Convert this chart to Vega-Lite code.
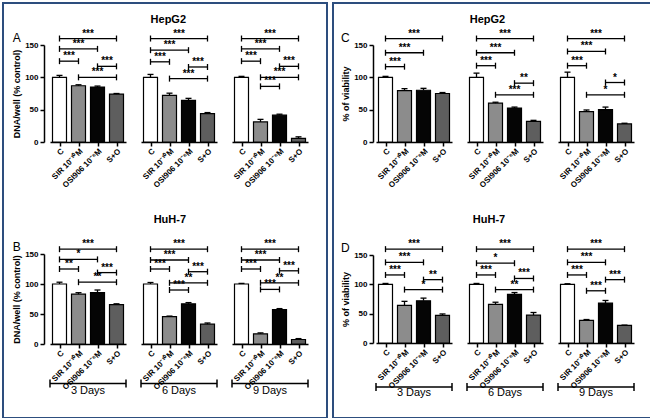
{
"$schema": "https://vega.github.io/schema/vega-lite/v6.json",
"padding": 0,
"background": "white",
"config": {
  "view": {"stroke": null},
  "font": "Liberation Sans",
  "axis": {"domainColor": "black", "tickColor": "black", "labelColor": "black", "titleColor": "black", "domainWidth": 1.5, "tickWidth": 1.5, "grid": false, "labelFont": "Liberation Sans", "titleFont": "Liberation Sans"},
  "title": {"color": "black", "fontSize": 11, "fontWeight": "bold", "font": "Liberation Sans", "anchor": "middle"},
  "header": {"labelColor": "black", "labelFont": "Liberation Sans"}
},
"datasets": {"all": [
{"p":"A","d":"3 Days","t":"C","v":100,"hi":103},
{"p":"A","d":"3 Days","t":"SIR","v":87,"hi":88.5},
{"p":"A","d":"3 Days","t":"OSI","v":85,"hi":86.5},
{"p":"A","d":"3 Days","t":"S+O","v":74,"hi":75},
{"p":"A","d":"6 Days","t":"C","v":100,"hi":104.5},
{"p":"A","d":"6 Days","t":"SIR","v":72,"hi":75.5},
{"p":"A","d":"6 Days","t":"OSI","v":64.5,"hi":67.5},
{"p":"A","d":"6 Days","t":"S+O","v":44,"hi":45.5},
{"p":"A","d":"9 Days","t":"C","v":100,"hi":101.5},
{"p":"A","d":"9 Days","t":"SIR","v":31,"hi":35},
{"p":"A","d":"9 Days","t":"OSI","v":41.5,"hi":43},
{"p":"A","d":"9 Days","t":"S+O","v":5.5,"hi":8},
{"p":"A","d":"3 Days","f":"C","g":"S+O","m":"SIR|OSI","yb":160,"s":"***"},
{"p":"A","d":"3 Days","f":"C","g":"OSI","m":"SIR","yb":144,"s":"***"},
{"p":"A","d":"3 Days","f":"C","g":"SIR","m":"C|SIR","yb":125,"s":"***"},
{"p":"A","d":"3 Days","f":"OSI","g":"S+O","m":"OSI|S+O","yb":117,"s":"***"},
{"p":"A","d":"3 Days","f":"SIR","g":"S+O","m":"OSI","yb":100,"s":"***"},
{"p":"A","d":"6 Days","f":"C","g":"S+O","m":"SIR|OSI","yb":160,"s":"***"},
{"p":"A","d":"6 Days","f":"C","g":"OSI","m":"SIR","yb":142,"s":"***"},
{"p":"A","d":"6 Days","f":"C","g":"SIR","m":"C|SIR","yb":124,"s":"***"},
{"p":"A","d":"6 Days","f":"OSI","g":"S+O","m":"OSI|S+O","yb":116,"s":"***"},
{"p":"A","d":"6 Days","f":"SIR","g":"S+O","m":"OSI","yb":98,"s":"***"},
{"p":"A","d":"9 Days","f":"C","g":"S+O","m":"SIR|OSI","yb":160,"s":"***"},
{"p":"A","d":"9 Days","f":"C","g":"OSI","m":"SIR","yb":144,"s":"***"},
{"p":"A","d":"9 Days","f":"C","g":"SIR","m":"C|SIR","yb":125,"s":"***"},
{"p":"A","d":"9 Days","f":"OSI","g":"S+O","m":"OSI|S+O","yb":117,"s":"***"},
{"p":"A","d":"9 Days","f":"SIR","g":"S+O","m":"OSI","yb":100,"s":"***"},
{"p":"A","d":"9 Days","f":"SIR","g":"OSI","m":"SIR|OSI","yb":86,"s":"***"},
{"p":"B","d":"3 Days","t":"C","v":100,"hi":103},
{"p":"B","d":"3 Days","t":"SIR","v":83,"hi":85.5},
{"p":"B","d":"3 Days","t":"OSI","v":85.5,"hi":90},
{"p":"B","d":"3 Days","t":"S+O","v":65.5,"hi":67},
{"p":"B","d":"6 Days","t":"C","v":100,"hi":102.5},
{"p":"B","d":"6 Days","t":"SIR","v":45.5,"hi":46.5},
{"p":"B","d":"6 Days","t":"OSI","v":67,"hi":69},
{"p":"B","d":"6 Days","t":"S+O","v":33,"hi":35},
{"p":"B","d":"9 Days","t":"C","v":100,"hi":101},
{"p":"B","d":"9 Days","t":"SIR","v":17,"hi":18.5},
{"p":"B","d":"9 Days","t":"OSI","v":57.5,"hi":59},
{"p":"B","d":"9 Days","t":"S+O","v":7.5,"hi":9},
{"p":"B","d":"3 Days","f":"C","g":"S+O","m":"SIR|OSI","yb":158,"s":"***"},
{"p":"B","d":"3 Days","f":"C","g":"OSI","m":"SIR","yb":141,"s":"*"},
{"p":"B","d":"3 Days","f":"C","g":"SIR","m":"C|SIR","yb":125,"s":"**"},
{"p":"B","d":"3 Days","f":"OSI","g":"S+O","m":"OSI|S+O","yb":119,"s":"***"},
{"p":"B","d":"3 Days","f":"SIR","g":"S+O","m":"OSI","yb":103,"s":"**"},
{"p":"B","d":"6 Days","f":"C","g":"S+O","m":"SIR|OSI","yb":158,"s":"***"},
{"p":"B","d":"6 Days","f":"C","g":"OSI","m":"SIR","yb":140,"s":"***"},
{"p":"B","d":"6 Days","f":"C","g":"SIR","m":"C|SIR","yb":125,"s":"***"},
{"p":"B","d":"6 Days","f":"OSI","g":"S+O","m":"OSI|S+O","yb":120.5,"s":"***"},
{"p":"B","d":"6 Days","f":"SIR","g":"S+O","m":"OSI","yb":102,"s":"**"},
{"p":"B","d":"6 Days","f":"SIR","g":"OSI","m":"SIR|OSI","yb":90,"s":"***"},
{"p":"B","d":"9 Days","f":"C","g":"S+O","m":"SIR|OSI","yb":158,"s":"***"},
{"p":"B","d":"9 Days","f":"C","g":"OSI","m":"SIR","yb":140,"s":"***"},
{"p":"B","d":"9 Days","f":"C","g":"SIR","m":"C|SIR","yb":125,"s":"***"},
{"p":"B","d":"9 Days","f":"OSI","g":"S+O","m":"OSI|S+O","yb":122,"s":"***"},
{"p":"B","d":"9 Days","f":"SIR","g":"S+O","m":"OSI","yb":102,"s":"**"},
{"p":"B","d":"9 Days","f":"SIR","g":"OSI","m":"SIR|OSI","yb":91,"s":"***"},
{"p":"C","d":"3 Days","t":"C","v":100,"hi":101.5},
{"p":"C","d":"3 Days","t":"SIR","v":79.5,"hi":82.5},
{"p":"C","d":"3 Days","t":"OSI","v":80,"hi":83},
{"p":"C","d":"3 Days","t":"S+O","v":75,"hi":76.5},
{"p":"C","d":"6 Days","t":"C","v":100,"hi":106.5},
{"p":"C","d":"6 Days","t":"SIR","v":60,"hi":61.5},
{"p":"C","d":"6 Days","t":"OSI","v":52.5,"hi":54},
{"p":"C","d":"6 Days","t":"S+O","v":32,"hi":33.5},
{"p":"C","d":"9 Days","t":"C","v":100,"hi":108},
{"p":"C","d":"9 Days","t":"SIR","v":47,"hi":49.5},
{"p":"C","d":"9 Days","t":"OSI","v":50,"hi":54},
{"p":"C","d":"9 Days","t":"S+O","v":28,"hi":29},
{"p":"C","d":"3 Days","f":"C","g":"S+O","m":"SIR|OSI","yb":160,"s":"***"},
{"p":"C","d":"3 Days","f":"C","g":"OSI","m":"SIR","yb":138,"s":"***"},
{"p":"C","d":"3 Days","f":"C","g":"SIR","m":"C|SIR","yb":116.5,"s":"***"},
{"p":"C","d":"6 Days","f":"C","g":"S+O","m":"SIR|OSI","yb":160,"s":"***"},
{"p":"C","d":"6 Days","f":"C","g":"OSI","m":"SIR","yb":138,"s":"***"},
{"p":"C","d":"6 Days","f":"C","g":"SIR","m":"C|SIR","yb":118,"s":"***"},
{"p":"C","d":"6 Days","f":"OSI","g":"S+O","m":"OSI|S+O","yb":91,"s":"**"},
{"p":"C","d":"6 Days","f":"SIR","g":"S+O","m":"OSI","yb":73,"s":"***"},
{"p":"C","d":"9 Days","f":"C","g":"S+O","m":"SIR|OSI","yb":160,"s":"***"},
{"p":"C","d":"9 Days","f":"C","g":"OSI","m":"SIR","yb":140,"s":"***"},
{"p":"C","d":"9 Days","f":"C","g":"SIR","m":"C|SIR","yb":118,"s":"***"},
{"p":"C","d":"9 Days","f":"OSI","g":"S+O","m":"OSI|S+O","yb":92,"s":"*"},
{"p":"C","d":"9 Days","f":"SIR","g":"S+O","m":"OSI","yb":73,"s":"*"},
{"p":"D","d":"3 Days","t":"C","v":100,"hi":101.5},
{"p":"D","d":"3 Days","t":"SIR","v":64,"hi":71},
{"p":"D","d":"3 Days","t":"OSI","v":72,"hi":76.5},
{"p":"D","d":"3 Days","t":"S+O","v":47,"hi":49.5},
{"p":"D","d":"6 Days","t":"C","v":100,"hi":101.5},
{"p":"D","d":"6 Days","t":"SIR","v":66,"hi":69.5},
{"p":"D","d":"6 Days","t":"OSI","v":83,"hi":86},
{"p":"D","d":"6 Days","t":"S+O","v":47.5,"hi":52},
{"p":"D","d":"9 Days","t":"C","v":100,"hi":101},
{"p":"D","d":"9 Days","t":"SIR","v":38.5,"hi":40},
{"p":"D","d":"9 Days","t":"OSI","v":68,"hi":72.5},
{"p":"D","d":"9 Days","t":"S+O","v":30,"hi":30.5},
{"p":"D","d":"3 Days","f":"C","g":"S+O","m":"SIR|OSI","yb":160,"s":"***"},
{"p":"D","d":"3 Days","f":"C","g":"OSI","m":"SIR","yb":137.5,"s":"***"},
{"p":"D","d":"3 Days","f":"C","g":"SIR","m":"C|SIR","yb":116,"s":"***"},
{"p":"D","d":"3 Days","f":"OSI","g":"S+O","m":"OSI|S+O","yb":108,"s":"**"},
{"p":"D","d":"3 Days","f":"SIR","g":"S+O","m":"OSI","yb":91,"s":"*"},
{"p":"D","d":"6 Days","f":"C","g":"S+O","m":"SIR|OSI","yb":160,"s":"***"},
{"p":"D","d":"6 Days","f":"C","g":"OSI","m":"SIR","yb":136,"s":"*"},
{"p":"D","d":"6 Days","f":"C","g":"SIR","m":"C|SIR","yb":116,"s":"***"},
{"p":"D","d":"6 Days","f":"OSI","g":"S+O","m":"OSI|S+O","yb":110,"s":"***"},
{"p":"D","d":"6 Days","f":"SIR","g":"S+O","m":"OSI","yb":91,"s":"**"},
{"p":"D","d":"9 Days","f":"C","g":"S+O","m":"SIR|OSI","yb":160,"s":"***"},
{"p":"D","d":"9 Days","f":"C","g":"OSI","m":"SIR","yb":137.5,"s":"***"},
{"p":"D","d":"9 Days","f":"C","g":"SIR","m":"C|SIR","yb":116,"s":"***"},
{"p":"D","d":"9 Days","f":"OSI","g":"S+O","m":"OSI|S+O","yb":108,"s":"***"},
{"p":"D","d":"9 Days","f":"SIR","g":"OSI","m":"SIR|OSI","yb":89,"s":"***"}
]},
"columns": 2,
"align": "none",
"spacing": {"row": -406, "column": -640},
"concat": [
{"spacing": 4, "hconcat": [
  {"width": 324, "height": 415, "data": {"values": [{"k": 1}]}, "mark": {"type": "point", "opacity": 0}, "encoding": {}, "view": {"stroke": "#2d4e7e", "strokeWidth": 2}},
  {"width": 318, "height": 415, "data": {"values": [{"k": 1}]}, "mark": {"type": "point", "opacity": 0}, "encoding": {}, "view": {"stroke": "#2d4e7e", "strokeWidth": 2}}
]},
{"width": 1, "height": 1, "data": {"values": [{"k": 1}]}, "mark": {"type": "point", "opacity": 0}, "encoding": {}},
{"width": 1, "height": 1, "data": {"values": [{"k": 1}]}, "mark": {"type": "point", "opacity": 0}, "encoding": {}},
{"spacing": 29, "hconcat": [
 {"spacing": 24, "vconcat": [
  {"data": {"name": "all"}, "transform": [{"filter": "datum.p == 'A'"}],
   "title": {"text": "HepG2", "offset": 4, "anchor": "middle", "dx": 8},
   "bounds": "flush",
   "facet": {
     "row": {"field": "p", "type": "nominal", "header": {"title": null, "labelAngle": 0, "labelAnchor": "end", "labelAlign": "left", "labelBaseline": "bottom", "labelFontSize": 12, "labelPadding": -8}},
     "column": {"field": "d", "type": "ordinal", "header": {"title": null, "labels": false}}
   },
   "spacing": {"row": 0, "column": 15},
   "spec": {"width": 76, "height": 97, "layer": [
     {"transform": [{"filter": "isValid(datum.v)"}], "mark": {"type": "bar", "width": 14, "stroke": "black", "strokeWidth": 1.2},
      "encoding": {
        "x": {"field": "t", "type": "nominal", "scale": {"type": "point", "domain": ["L","C","C|SIR","SIR","SIR|OSI","OSI","OSI|S+O","S+O","R"], "padding": 0},
              "axis": {"values": ["C","SIR","OSI","S+O"], "labelExpr": "datum.value == 'SIR' ? 'SIR 10⁻¹⁰M' : datum.value == 'OSI' ? 'OSI906 10⁻⁶M' : datum.value", "labelAngle": -45, "labelFontSize": 8, "labelFontWeight": "bold", "title": null, "tickSize": 4, "labelPadding": 1, "labelOverlap": false, "labelBound": false, "labelFlush": false}},
        "y": {"field": "v", "type": "quantitative", "scale": {"domain": [0, 150], "nice": false},
              "axis": {"tickCount": 3, "labelExpr": "format(datum.value, 'd')", "title": "DNA/well (% control)", "titleFontSize": 9, "titleFontWeight": "bold", "labelFontSize": 8, "labelFontWeight": "bold", "offset": 6, "tickSize": 4, "labelPadding": 2, "titlePadding": 3, "labelOverlap": false, "labelFlush": false}},
        "fill": {"field": "t", "type": "nominal", "scale": {"domain": ["C","SIR","OSI","S+O"], "range": ["#ffffff","#8c8c8c","#050505","#5e5e5e"]}, "legend": null}
      }},
     {"transform": [{"filter": "isValid(datum.v)"}], "mark": {"type": "rule", "color": "black", "strokeWidth": 1.3},
      "encoding": {"x": {"field": "t", "type": "nominal"}, "y": {"field": "v", "type": "quantitative"}, "y2": {"field": "hi"}}},
     {"transform": [{"filter": "isValid(datum.v)"}], "mark": {"type": "point", "shape": "M-1,0L1,0", "size": 36, "filled": false, "color": "black", "strokeWidth": 1.3, "opacity": 1},
      "encoding": {"x": {"field": "t", "type": "nominal"}, "y": {"field": "hi", "type": "quantitative"}}},
     {"transform": [{"filter": "isValid(datum.s)"}], "mark": {"type": "rule", "color": "black", "strokeWidth": 1.3},
      "encoding": {"x": {"field": "f", "type": "nominal"}, "x2": {"field": "g"}, "y": {"field": "yb", "type": "quantitative"}}},
     {"transform": [{"filter": "isValid(datum.s)"}], "mark": {"type": "point", "shape": "M0,-1L0,1", "size": 36, "filled": false, "color": "black", "strokeWidth": 1.3, "opacity": 1},
      "encoding": {"x": {"field": "f", "type": "nominal"}, "y": {"field": "yb", "type": "quantitative"}}},
     {"transform": [{"filter": "isValid(datum.s)"}], "mark": {"type": "point", "shape": "M0,-1L0,1", "size": 36, "filled": false, "color": "black", "strokeWidth": 1.3, "opacity": 1},
      "encoding": {"x": {"field": "g", "type": "nominal"}, "y": {"field": "yb", "type": "quantitative"}}},
     {"transform": [{"filter": "isValid(datum.s)"}], "mark": {"type": "text", "baseline": "bottom", "fontSize": 10, "fontWeight": "bold", "color": "black"},
      "encoding": {"x": {"field": "m", "type": "nominal"}, "y": {"field": "yb", "type": "quantitative"}, "text": {"field": "s"}}}
   ]}
  },
  {"data": {"name": "all"}, "transform": [{"filter": "datum.p == 'B'"}],
   "title": {"text": "HuH-7", "offset": 14, "anchor": "middle", "dx": 8},
   "bounds": "flush",
   "facet": {
     "row": {"field": "p", "type": "nominal", "header": {"title": null, "labelAngle": 0, "labelAnchor": "end", "labelAlign": "left", "labelBaseline": "bottom", "labelFontSize": 12, "labelPadding": -8}},
     "column": {"field": "d", "type": "ordinal", "header": {"title": null, "labels": false}}
   },
   "spacing": {"row": 0, "column": 15},
   "spec": {"width": 76, "height": 90, "layer": [
     {"transform": [{"filter": "isValid(datum.v)"}], "mark": {"type": "bar", "width": 14, "stroke": "black", "strokeWidth": 1.2},
      "encoding": {
        "x": {"field": "t", "type": "nominal", "scale": {"type": "point", "domain": ["L","C","C|SIR","SIR","SIR|OSI","OSI","OSI|S+O","S+O","R"], "padding": 0},
              "axis": {"values": ["C","SIR","OSI","S+O"], "labelExpr": "datum.value == 'SIR' ? 'SIR 10⁻¹⁰M' : datum.value == 'OSI' ? 'OSI906 10⁻⁶M' : datum.value", "labelAngle": -45, "labelFontSize": 8, "labelFontWeight": "bold", "title": null, "tickSize": 4, "labelPadding": 1, "labelOverlap": false, "labelBound": false, "labelFlush": false}},
        "y": {"field": "v", "type": "quantitative", "scale": {"domain": [0, 150], "nice": false},
              "axis": {"tickCount": 3, "labelExpr": "format(datum.value, 'd')", "title": "DNA/well (% control)", "titleFontSize": 9, "titleFontWeight": "bold", "labelFontSize": 8, "labelFontWeight": "bold", "offset": 6, "tickSize": 4, "labelPadding": 2, "titlePadding": 3, "labelOverlap": false, "labelFlush": false}},
        "fill": {"field": "t", "type": "nominal", "scale": {"domain": ["C","SIR","OSI","S+O"], "range": ["#ffffff","#8c8c8c","#050505","#5e5e5e"]}, "legend": null}
      }},
     {"transform": [{"filter": "isValid(datum.v)"}], "mark": {"type": "rule", "color": "black", "strokeWidth": 1.3},
      "encoding": {"x": {"field": "t", "type": "nominal"}, "y": {"field": "v", "type": "quantitative"}, "y2": {"field": "hi"}}},
     {"transform": [{"filter": "isValid(datum.v)"}], "mark": {"type": "point", "shape": "M-1,0L1,0", "size": 36, "filled": false, "color": "black", "strokeWidth": 1.3, "opacity": 1},
      "encoding": {"x": {"field": "t", "type": "nominal"}, "y": {"field": "hi", "type": "quantitative"}}},
     {"transform": [{"filter": "isValid(datum.s)"}], "mark": {"type": "rule", "color": "black", "strokeWidth": 1.3},
      "encoding": {"x": {"field": "f", "type": "nominal"}, "x2": {"field": "g"}, "y": {"field": "yb", "type": "quantitative"}}},
     {"transform": [{"filter": "isValid(datum.s)"}], "mark": {"type": "point", "shape": "M0,-1L0,1", "size": 36, "filled": false, "color": "black", "strokeWidth": 1.3, "opacity": 1},
      "encoding": {"x": {"field": "f", "type": "nominal"}, "y": {"field": "yb", "type": "quantitative"}}},
     {"transform": [{"filter": "isValid(datum.s)"}], "mark": {"type": "point", "shape": "M0,-1L0,1", "size": 36, "filled": false, "color": "black", "strokeWidth": 1.3, "opacity": 1},
      "encoding": {"x": {"field": "g", "type": "nominal"}, "y": {"field": "yb", "type": "quantitative"}}},
     {"transform": [{"filter": "isValid(datum.s)"}], "mark": {"type": "text", "baseline": "bottom", "fontSize": 10, "fontWeight": "bold", "color": "black"},
      "encoding": {"x": {"field": "m", "type": "nominal"}, "y": {"field": "yb", "type": "quantitative"}, "text": {"field": "s"}}},
     {"transform": [{"filter": "datum.t == 'C'"}], "mark": {"type": "rule", "color": "black", "strokeWidth": 1.5},
      "encoding": {"x": {"datum": "L", "type": "nominal"}, "x2": {"datum": "R"}, "y": {"datum": -66, "type": "quantitative"}}},
     {"transform": [{"filter": "datum.t == 'C'"}], "mark": {"type": "point", "shape": "M0,-1L0,1", "size": 64, "filled": false, "color": "black", "strokeWidth": 1.5, "opacity": 1},
      "encoding": {"x": {"datum": "L", "type": "nominal"}, "y": {"datum": -66, "type": "quantitative"}}},
     {"transform": [{"filter": "datum.t == 'C'"}], "mark": {"type": "point", "shape": "M0,-1L0,1", "size": 64, "filled": false, "color": "black", "strokeWidth": 1.5, "opacity": 1},
      "encoding": {"x": {"datum": "R", "type": "nominal"}, "y": {"datum": -66, "type": "quantitative"}}},
     {"transform": [{"filter": "datum.t == 'C'"}], "mark": {"type": "text", "baseline": "middle", "fontSize": 11, "color": "black"},
      "encoding": {"x": {"datum": "SIR|OSI", "type": "nominal"}, "y": {"datum": -79, "type": "quantitative"}, "text": {"field": "d"}}}
   ]}
  }
 ]},
 {"spacing": 24, "vconcat": [
  {"data": {"name": "all"}, "transform": [{"filter": "datum.p == 'C'"}],
   "title": {"text": "HepG2", "offset": 4, "anchor": "middle"},
   "bounds": "flush",
   "facet": {
     "row": {"field": "p", "type": "nominal", "header": {"title": null, "labelAngle": 0, "labelAnchor": "end", "labelAlign": "left", "labelBaseline": "bottom", "labelFontSize": 12, "labelPadding": -8}},
     "column": {"field": "d", "type": "ordinal", "header": {"title": null, "labels": false}}
   },
   "spacing": {"row": 0, "column": 15},
   "spec": {"width": 76, "height": 97, "layer": [
     {"transform": [{"filter": "isValid(datum.v)"}], "mark": {"type": "bar", "width": 14, "stroke": "black", "strokeWidth": 1.2},
      "encoding": {
        "x": {"field": "t", "type": "nominal", "scale": {"type": "point", "domain": ["L","C","C|SIR","SIR","SIR|OSI","OSI","OSI|S+O","S+O","R"], "padding": 0},
              "axis": {"values": ["C","SIR","OSI","S+O"], "labelExpr": "datum.value == 'SIR' ? 'SIR 10⁻¹⁰M' : datum.value == 'OSI' ? 'OSI906 10⁻⁶M' : datum.value", "labelAngle": -45, "labelFontSize": 8, "labelFontWeight": "bold", "title": null, "tickSize": 4, "labelPadding": 1, "labelOverlap": false, "labelBound": false, "labelFlush": false}},
        "y": {"field": "v", "type": "quantitative", "scale": {"domain": [0, 150], "nice": false},
              "axis": {"tickCount": 3, "labelExpr": "format(datum.value, 'd')", "title": "% of viability", "titleFontSize": 9, "titleFontWeight": "bold", "labelFontSize": 8, "labelFontWeight": "bold", "offset": 3, "tickSize": 4, "labelPadding": 2, "titlePadding": 3, "labelOverlap": false, "labelFlush": false}},
        "fill": {"field": "t", "type": "nominal", "scale": {"domain": ["C","SIR","OSI","S+O"], "range": ["#ffffff","#8c8c8c","#050505","#5e5e5e"]}, "legend": null}
      }},
     {"transform": [{"filter": "isValid(datum.v)"}], "mark": {"type": "rule", "color": "black", "strokeWidth": 1.3},
      "encoding": {"x": {"field": "t", "type": "nominal"}, "y": {"field": "v", "type": "quantitative"}, "y2": {"field": "hi"}}},
     {"transform": [{"filter": "isValid(datum.v)"}], "mark": {"type": "point", "shape": "M-1,0L1,0", "size": 36, "filled": false, "color": "black", "strokeWidth": 1.3, "opacity": 1},
      "encoding": {"x": {"field": "t", "type": "nominal"}, "y": {"field": "hi", "type": "quantitative"}}},
     {"transform": [{"filter": "isValid(datum.s)"}], "mark": {"type": "rule", "color": "black", "strokeWidth": 1.3},
      "encoding": {"x": {"field": "f", "type": "nominal"}, "x2": {"field": "g"}, "y": {"field": "yb", "type": "quantitative"}}},
     {"transform": [{"filter": "isValid(datum.s)"}], "mark": {"type": "point", "shape": "M0,-1L0,1", "size": 36, "filled": false, "color": "black", "strokeWidth": 1.3, "opacity": 1},
      "encoding": {"x": {"field": "f", "type": "nominal"}, "y": {"field": "yb", "type": "quantitative"}}},
     {"transform": [{"filter": "isValid(datum.s)"}], "mark": {"type": "point", "shape": "M0,-1L0,1", "size": 36, "filled": false, "color": "black", "strokeWidth": 1.3, "opacity": 1},
      "encoding": {"x": {"field": "g", "type": "nominal"}, "y": {"field": "yb", "type": "quantitative"}}},
     {"transform": [{"filter": "isValid(datum.s)"}], "mark": {"type": "text", "baseline": "bottom", "fontSize": 10, "fontWeight": "bold", "color": "black"},
      "encoding": {"x": {"field": "m", "type": "nominal"}, "y": {"field": "yb", "type": "quantitative"}, "text": {"field": "s"}}}
   ]}
  },
  {"data": {"name": "all"}, "transform": [{"filter": "datum.p == 'D'"}],
   "title": {"text": "HuH-7", "offset": 14, "anchor": "middle"},
   "bounds": "flush",
   "facet": {
     "row": {"field": "p", "type": "nominal", "header": {"title": null, "labelAngle": 0, "labelAnchor": "end", "labelAlign": "left", "labelBaseline": "bottom", "labelFontSize": 12, "labelPadding": -8}},
     "column": {"field": "d", "type": "ordinal", "header": {"title": null, "labels": false}}
   },
   "spacing": {"row": 0, "column": 15},
   "spec": {"width": 76, "height": 88, "layer": [
     {"transform": [{"filter": "isValid(datum.v)"}], "mark": {"type": "bar", "width": 14, "stroke": "black", "strokeWidth": 1.2},
      "encoding": {
        "x": {"field": "t", "type": "nominal", "scale": {"type": "point", "domain": ["L","C","C|SIR","SIR","SIR|OSI","OSI","OSI|S+O","S+O","R"], "padding": 0},
              "axis": {"values": ["C","SIR","OSI","S+O"], "labelExpr": "datum.value == 'SIR' ? 'SIR 10⁻¹⁰M' : datum.value == 'OSI' ? 'OSI906 10⁻⁶M' : datum.value", "labelAngle": -45, "labelFontSize": 8, "labelFontWeight": "bold", "title": null, "tickSize": 4, "labelPadding": 1, "labelOverlap": false, "labelBound": false, "labelFlush": false}},
        "y": {"field": "v", "type": "quantitative", "scale": {"domain": [0, 150], "nice": false},
              "axis": {"tickCount": 3, "labelExpr": "format(datum.value, 'd')", "title": "% of viability", "titleFontSize": 9, "titleFontWeight": "bold", "labelFontSize": 8, "labelFontWeight": "bold", "offset": 3, "tickSize": 4, "labelPadding": 2, "titlePadding": 3, "labelOverlap": false, "labelFlush": false}},
        "fill": {"field": "t", "type": "nominal", "scale": {"domain": ["C","SIR","OSI","S+O"], "range": ["#ffffff","#8c8c8c","#050505","#5e5e5e"]}, "legend": null}
      }},
     {"transform": [{"filter": "isValid(datum.v)"}], "mark": {"type": "rule", "color": "black", "strokeWidth": 1.3},
      "encoding": {"x": {"field": "t", "type": "nominal"}, "y": {"field": "v", "type": "quantitative"}, "y2": {"field": "hi"}}},
     {"transform": [{"filter": "isValid(datum.v)"}], "mark": {"type": "point", "shape": "M-1,0L1,0", "size": 36, "filled": false, "color": "black", "strokeWidth": 1.3, "opacity": 1},
      "encoding": {"x": {"field": "t", "type": "nominal"}, "y": {"field": "hi", "type": "quantitative"}}},
     {"transform": [{"filter": "isValid(datum.s)"}], "mark": {"type": "rule", "color": "black", "strokeWidth": 1.3},
      "encoding": {"x": {"field": "f", "type": "nominal"}, "x2": {"field": "g"}, "y": {"field": "yb", "type": "quantitative"}}},
     {"transform": [{"filter": "isValid(datum.s)"}], "mark": {"type": "point", "shape": "M0,-1L0,1", "size": 36, "filled": false, "color": "black", "strokeWidth": 1.3, "opacity": 1},
      "encoding": {"x": {"field": "f", "type": "nominal"}, "y": {"field": "yb", "type": "quantitative"}}},
     {"transform": [{"filter": "isValid(datum.s)"}], "mark": {"type": "point", "shape": "M0,-1L0,1", "size": 36, "filled": false, "color": "black", "strokeWidth": 1.3, "opacity": 1},
      "encoding": {"x": {"field": "g", "type": "nominal"}, "y": {"field": "yb", "type": "quantitative"}}},
     {"transform": [{"filter": "isValid(datum.s)"}], "mark": {"type": "text", "baseline": "bottom", "fontSize": 10, "fontWeight": "bold", "color": "black"},
      "encoding": {"x": {"field": "m", "type": "nominal"}, "y": {"field": "yb", "type": "quantitative"}, "text": {"field": "s"}}},
     {"transform": [{"filter": "datum.t == 'C'"}], "mark": {"type": "rule", "color": "black", "strokeWidth": 1.5},
      "encoding": {"x": {"datum": "L", "type": "nominal"}, "x2": {"datum": "R"}, "y": {"datum": -75, "type": "quantitative"}}},
     {"transform": [{"filter": "datum.t == 'C'"}], "mark": {"type": "point", "shape": "M0,-1L0,1", "size": 64, "filled": false, "color": "black", "strokeWidth": 1.5, "opacity": 1},
      "encoding": {"x": {"datum": "L", "type": "nominal"}, "y": {"datum": -75, "type": "quantitative"}}},
     {"transform": [{"filter": "datum.t == 'C'"}], "mark": {"type": "point", "shape": "M0,-1L0,1", "size": 64, "filled": false, "color": "black", "strokeWidth": 1.5, "opacity": 1},
      "encoding": {"x": {"datum": "R", "type": "nominal"}, "y": {"datum": -75, "type": "quantitative"}}},
     {"transform": [{"filter": "datum.t == 'C'"}], "mark": {"type": "text", "baseline": "middle", "fontSize": 11, "color": "black"},
      "encoding": {"x": {"datum": "SIR|OSI", "type": "nominal"}, "y": {"datum": -86, "type": "quantitative"}, "text": {"field": "d"}}}
   ]}
  }
 ]}
]}
]
}
